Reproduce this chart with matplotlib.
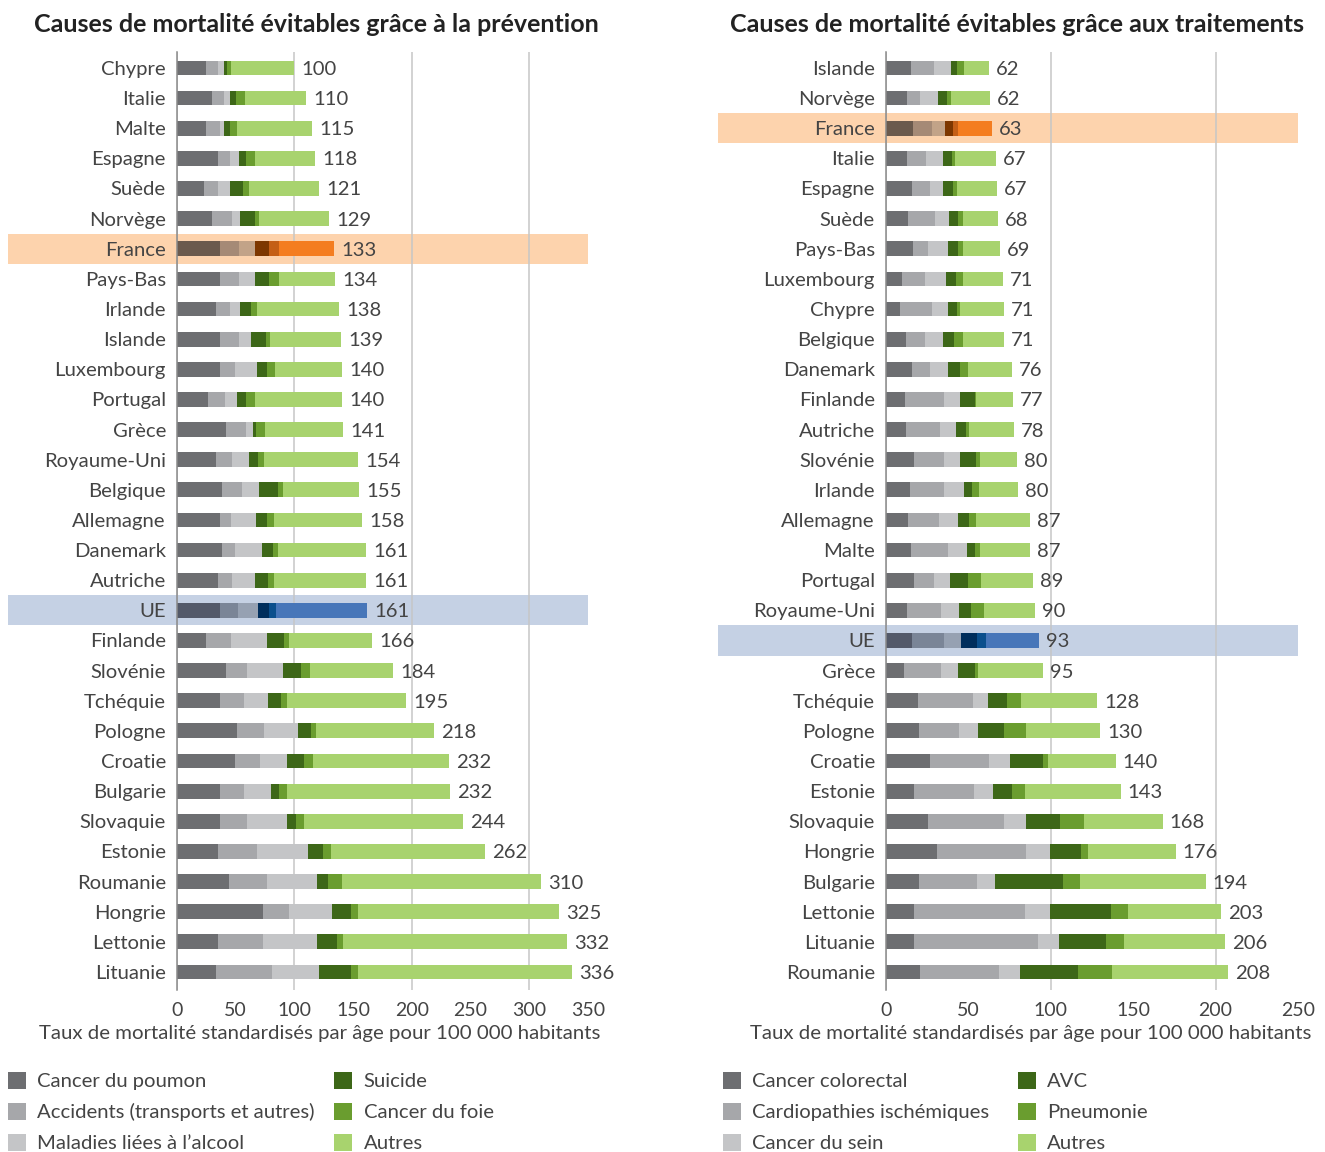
import matplotlib
matplotlib.use('Agg')
import matplotlib.pyplot as plt
from matplotlib.patches import Patch
from matplotlib.ticker import MultipleLocator, FixedLocator, FuncFormatter

plt.rcParams['font.family'] = ['Lato', 'DejaVu Sans']
TXT = '#444444'

# ---------------- Data: prevention ----------------
countries_p = ["Chypre", "Italie", "Malte", "Espagne", "Suède", "Norvège", "France", "Pays-Bas",
               "Irlande", "Islande", "Luxembourg", "Portugal", "Grèce", "Royaume-Uni", "Belgique",
               "Allemagne", "Danemark", "Autriche", "UE", "Finlande", "Slovénie", "Tchéquie",
               "Pologne", "Croatie", "Bulgarie", "Slovaquie", "Estonie", "Roumanie", "Hongrie",
               "Lettonie", "Lituanie"]
totals_p = [100, 110, 115, 118, 121, 129, 133, 134, 138, 139, 140, 140, 141, 154, 155, 158, 161,
            161, 161, 166, 184, 195, 218, 232, 232, 244, 262, 310, 325, 332, 336]
poumon = [24.3, 29.4, 25.1, 34.5, 22.6, 29.4, 36.2, 36.2, 32.8, 37.0, 37.0, 26.8, 42.1, 33.6, 38.7,
          36.2, 38.7, 34.5, 37.0, 25.1, 42.1, 37.0, 51.5, 49.8, 37.0, 36.2, 34.5, 44.7, 73.6, 34.5, 33.6]
accidents = [11.0, 11.0, 11.1, 11.0, 12.7, 17.8, 17.0, 17.0, 12.7, 16.2, 12.0, 14.5, 17.0, 13.6, 17.0,
             10.2, 11.1, 12.7, 15.3, 21.3, 17.9, 20.4, 23.0, 21.3, 20.4, 23.8, 34.0, 32.3, 22.1, 39.1, 47.7]
alcool = [4.3, 5.1, 4.2, 7.7, 10.2, 6.8, 13.6, 13.6, 8.5, 10.2, 19.5, 10.2, 5.2, 14.5, 14.5,
          21.3, 23.0, 18.8, 17.1, 30.6, 30.6, 20.5, 28.9, 22.9, 23.0, 34.0, 43.4, 42.6, 36.6, 46.0, 40.0]
suicide = [3.4, 5.1, 5.1, 5.9, 11.1, 12.8, 11.9, 11.9, 9.4, 12.8, 8.5, 7.6, 3.4, 7.7, 16.2,
           9.3, 9.3, 11.9, 9.3, 14.5, 15.4, 11.0, 11.1, 14.5, 6.8, 7.7, 12.8, 9.3, 16.2, 17.0, 27.2]
foie = [3.4, 7.7, 6.0, 6.9, 4.3, 3.4, 8.5, 8.5, 5.1, 3.4, 6.3, 6.9, 7.6, 5.1, 4.2,
        6.0, 4.3, 5.1, 6.0, 4.2, 7.6, 5.1, 4.2, 7.7, 6.8, 6.8, 6.8, 12.0, 6.0, 5.1, 6.0]
autres_p = [53.3, 51.9, 63.8, 51.9, 60.4, 59.6, 46.8, 47.6, 69.8, 60.4, 57.6, 74.9, 66.4, 80.0, 64.7,
            74.9, 74.9, 78.3, 77.4, 70.7, 70.7, 101.3, 100.5, 115.7, 138.8, 135.3, 131.1, 169.3,
            171.0, 190.6, 182.1]
labels_p = ["Cancer du poumon", "Accidents (transports et autres)", "Maladies liées à l’alcool",
            "Suicide", "Cancer du foie", "Autres"]

# ---------------- Data: treatments ----------------
countries_t = ["Islande", "Norvège", "France", "Italie", "Espagne", "Suède", "Pays-Bas", "Luxembourg",
               "Chypre", "Belgique", "Danemark", "Finlande", "Autriche", "Slovénie", "Irlande",
               "Allemagne", "Malte", "Portugal", "Royaume-Uni", "UE", "Grèce", "Tchéquie", "Pologne",
               "Croatie", "Estonie", "Slovaquie", "Hongrie", "Bulgarie", "Lettonie", "Lituanie",
               "Roumanie"]
totals_t = [62, 62, 63, 67, 67, 68, 69, 71, 71, 71, 76, 77, 78, 80, 80, 87, 87, 89, 90, 93, 95,
            128, 130, 140, 143, 168, 176, 194, 203, 206, 208]
colorectal = [15.0, 12.6, 16.2, 12.6, 15.6, 13.2, 16.2, 9.5, 8.3, 11.9, 15.6, 11.3, 11.9, 16.8, 14.4,
              13.2, 15.0, 16.8, 12.6, 15.6, 10.7, 19.2, 19.8, 26.5, 16.8, 25.3, 30.8, 19.8, 16.8, 16.8, 20.4]
cardio = [13.9, 7.8, 11.5, 11.5, 10.9, 16.4, 9.1, 14.0, 19.4, 11.6, 10.9, 23.7, 20.7, 18.2, 20.6,
          18.8, 22.4, 12.1, 20.6, 19.4, 22.5, 33.4, 24.3, 35.8, 36.4, 46.2, 54.0, 35.3, 67.4, 75.3, 48.0]
sein = [10.4, 11.0, 7.9, 10.3, 7.9, 8.5, 12.1, 12.7, 9.7, 10.9, 10.9, 9.7, 9.7, 9.7, 12.2,
        11.5, 11.6, 9.8, 10.9, 10.3, 10.3, 9.1, 11.6, 12.8, 11.6, 13.3, 14.6, 10.9, 15.2, 12.8, 12.8]
avc = [3.6, 5.4, 4.9, 5.5, 6.1, 5.4, 6.1, 6.1, 5.5, 6.7, 7.3, 9.1, 6.1, 9.8, 4.8,
       6.7, 4.8, 10.9, 7.3, 9.8, 10.3, 11.6, 15.8, 20.0, 11.5, 20.7, 18.8, 41.3, 37.0, 28.5, 35.2]
pneumonie = [4.3, 2.5, 3.0, 1.8, 2.4, 3.1, 3.1, 4.3, 1.8, 5.5, 4.9, 0.7, 1.8, 2.4, 4.3,
             4.3, 3.1, 7.9, 7.9, 5.4, 1.9, 8.4, 13.3, 3.1, 7.9, 14.5, 4.3, 10.3, 10.4, 10.9, 20.6]
autres_t = [15.1, 23.7, 20.7, 24.9, 24.3, 21.2, 22.4, 24.3, 26.8, 24.9, 26.7, 22.4, 27.3, 22.5, 23.7,
            32.7, 30.3, 31.6, 31.0, 32.2, 39.4, 46.3, 45.2, 41.3, 58.3, 48.0, 53.4, 76.5, 56.4, 61.4, 70.5]
labels_t = ["Cancer colorectal", "Cardiopathies ischémiques", "Cancer du sein",
            "AVC", "Pneumonie", "Autres"]

# ---------------- Styles ----------------
base_colors = ['#6d6e71', '#a6a7aa', '#c4c5c7', '#3d6718', '#6a9d2f', '#a8d36e']
fr_colors = ['#6b5a4d', '#a58a76', '#c2a388', '#7d3700', '#c45f16', '#f47d20']
ue_colors = ['#535969', '#7a8597', '#96a1b2', '#002e5c', '#0b4f8c', '#4776b9']
band_colors = {'France': '#fdd3ad', 'UE': '#c5d1e4'}

W, H = 1325, 1152
FS = 14.6
fig = plt.figure(figsize=(W / 100, H / 100), dpi=100)


def panel(ax, countries, totals, segs, xmax, minor, band_left_px, ax_left_px, ax_w_px):
    n = len(countries)
    ys = list(range(n))
    left = [0.0] * n
    cont = None
    for j, seg in enumerate(segs):
        cols = [fr_colors[j] if c == 'France' else ue_colors[j] if c == 'UE' else base_colors[j]
                for c in countries]
        cont = ax.barh(ys, seg, left=left, height=0.49, color=cols, zorder=2, linewidth=0)
        left = [a + b for a, b in zip(left, seg)]
    texts = ax.bar_label(cont, labels=[str(t) for t in totals], padding=5, fontsize=FS, color=TXT)
    for t in texts:
        t.set_va('center_baseline')
    xmin_frac = (band_left_px - ax_left_px) / ax_w_px
    for i, c in enumerate(countries):
        if c in band_colors:
            r = ax.axhspan(i - 0.5, i + 0.5, xmin=xmin_frac, xmax=1, color=band_colors[c],
                           zorder=0.2, lw=0)
            r.set_clip_on(False)
    ax.set_xlim(0, xmax)
    ax.set_ylim(n - 1 + 0.6, -0.53)
    ax.set_yticks(ys, countries)
    ax.tick_params(axis='y', length=0, pad=8, labelsize=FS, labelcolor=TXT)
    ax.xaxis.set_major_locator(MultipleLocator(100))
    ax.xaxis.set_minor_locator(FixedLocator(minor))
    fmt = FuncFormatter(lambda v, p: f'{v:.0f}')
    ax.xaxis.set_major_formatter(fmt)
    ax.xaxis.set_minor_formatter(fmt)
    ax.tick_params(axis='x', which='both', length=0, pad=9, labelsize=14, labelcolor=TXT)
    ax.grid(axis='x', which='major', color='#c6c6c6', lw=1.1)
    ax.set_axisbelow(True)
    for s in ['top', 'right', 'bottom']:
        ax.spines[s].set_visible(False)
    ax.spines['left'].set_color('#8a8a8a')
    ax.spines['left'].set_linewidth(1.1)
    ax.patch.set_alpha(0)


ax_bottom = 1 - 990 / H
ax_h = 938 / H
ax1 = fig.add_axes([177 / W, ax_bottom, 411 / W, ax_h])
ax2 = fig.add_axes([886 / W, ax_bottom, 412 / W, ax_h])

panel(ax1, countries_p, totals_p, [poumon, accidents, alcool, suicide, foie, autres_p],
      350, [50, 150, 250, 350], 8, 177, 411)
panel(ax2, countries_t, totals_t, [colorectal, cardio, sein, avc, pneumonie, autres_t],
      250, [50, 150, 250], 718, 886, 412)

xl = "Taux de mortalité standardisés par âge pour 100 000 habitants"
fig.text(320 / W, 1 - 1034 / H, xl, ha='center', va='center', fontsize=14.7, color=TXT)
fig.text(1031 / W, 1 - 1034 / H, xl, ha='center', va='center', fontsize=14.7, color=TXT)

fig.text(316 / W, 1 - 25 / H, "Causes de mortalité évitables grâce à la prévention",
         ha='center', va='center', fontsize=18, fontweight='bold', color='#222222')
fig.text(1017 / W, 1 - 25 / H, "Causes de mortalité évitables grâce aux traitements",
         ha='center', va='center', fontsize=18, fontweight='bold', color='#222222')

for labels, x0, colspace in [(labels_p, 8, 0.95), (labels_t, 723, 1.4)]:
    handles = [Patch(facecolor=c, edgecolor='none') for c in base_colors]
    fig.legend(handles, labels, loc='upper left', bbox_to_anchor=(x0 / W, 1 - 1072 / H),
               ncol=2, frameon=False, fontsize=14.6, handlelength=0.9, handleheight=0.9,
               handletextpad=0.55, columnspacing=colspace, labelspacing=0.62, borderpad=0,
               borderaxespad=0, labelcolor=TXT)

fig.savefig('out.png', dpi=100)
